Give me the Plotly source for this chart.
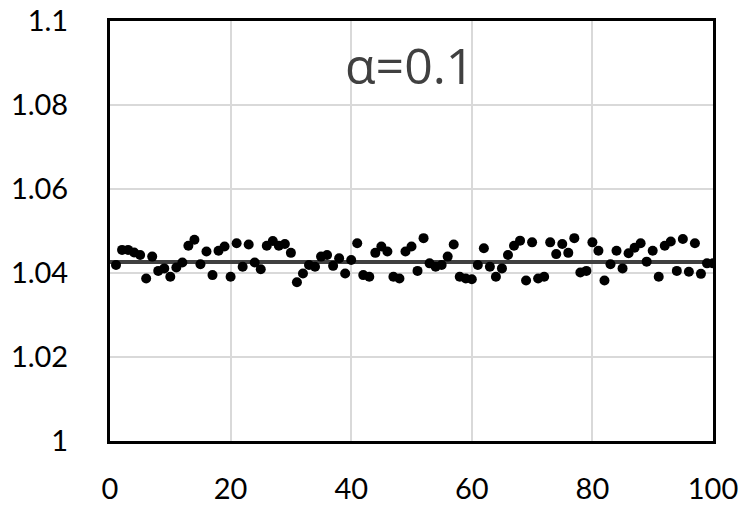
import numpy as np
import plotly.graph_objects as go

# Sample index and measured ratio per sample
sample_index = list(range(1, 101))
ratio = [
    1.0419, 1.0455, 1.0455, 1.0449, 1.0443, 1.0387, 1.0439, 1.0405, 1.0411, 1.0391,
    1.0413, 1.0425, 1.0465, 1.0479, 1.0421, 1.0451, 1.0395, 1.0453, 1.0463, 1.0391,
    1.0471, 1.0415, 1.0468, 1.0425, 1.0409, 1.0465, 1.0476, 1.0465, 1.0469, 1.0448,
    1.0378, 1.0399, 1.0419, 1.0415, 1.0439, 1.0443, 1.0417, 1.0435, 1.0399, 1.0431,
    1.0471, 1.0395, 1.0391, 1.0448, 1.0463, 1.0451, 1.0391, 1.0387, 1.0451, 1.0463,
    1.0405, 1.0483, 1.0423, 1.0415, 1.0419, 1.0439, 1.0468, 1.0391, 1.0387, 1.0385,
    1.0419, 1.0459, 1.0415, 1.0391, 1.0411, 1.0443, 1.0465, 1.0477, 1.0382, 1.0473,
    1.0387, 1.0391, 1.0473, 1.0445, 1.0469, 1.0448, 1.0483, 1.0401, 1.0405, 1.0473,
    1.0453, 1.0382, 1.0421, 1.0453, 1.0411, 1.0447, 1.0460, 1.0471, 1.0427, 1.0453,
    1.0391, 1.0465, 1.0475, 1.0405, 1.0481, 1.0403, 1.0471, 1.0398, 1.0423, 1.0423,
]
reference_level = 1.0426
line_x = [0, 100]

x_ticks = [0, 20, 40, 60, 80, 100]
y_ticks = [1.0, 1.02, 1.04, 1.06, 1.08, 1.1]
y_tick_text = ["1", "1.02", "1.04", "1.06", "1.08", "1.1"]
label_text = "α=0.1"

fig = go.Figure()
fig.add_trace(go.Scatter(
    x=line_x, y=[reference_level, reference_level], mode="lines",
    line=dict(color="#404040", width=4), hoverinfo="skip", showlegend=False,
))
fig.add_trace(go.Scatter(
    x=sample_index, y=ratio, mode="markers",
    marker=dict(color="black", size=10), showlegend=False,
))

fig.add_annotation(
    x=49.6, y=1.0896, xref="x", yref="y", text=label_text, showarrow=False,
    font=dict(family="Open Sans", size=50, color="#404040"),
)

axis_font = dict(family="Lato", size=29, color="black")
fig.update_xaxes(
    range=[0, 100], tickvals=x_ticks, showgrid=True, gridcolor="#d9d9d9", gridwidth=2,
    showline=True, linecolor="black", linewidth=3, mirror=True, zeroline=False,
    tickfont=axis_font, ticks="", ticklabelstandoff=20, automargin=False,
)
fig.update_yaxes(
    range=[1.0, 1.1], tickvals=y_ticks, ticktext=y_tick_text, showgrid=True,
    gridcolor="#d9d9d9", gridwidth=2, showline=True, linecolor="black", linewidth=3,
    mirror=True, zeroline=False, tickfont=axis_font, ticks="", ticklabelstandoff=33,
    automargin=False,
)
fig.update_layout(
    width=747, height=506, margin=dict(l=110, r=34, t=21, b=65),
    plot_bgcolor="white", paper_bgcolor="white",
)
fig.write_html("out.html")
